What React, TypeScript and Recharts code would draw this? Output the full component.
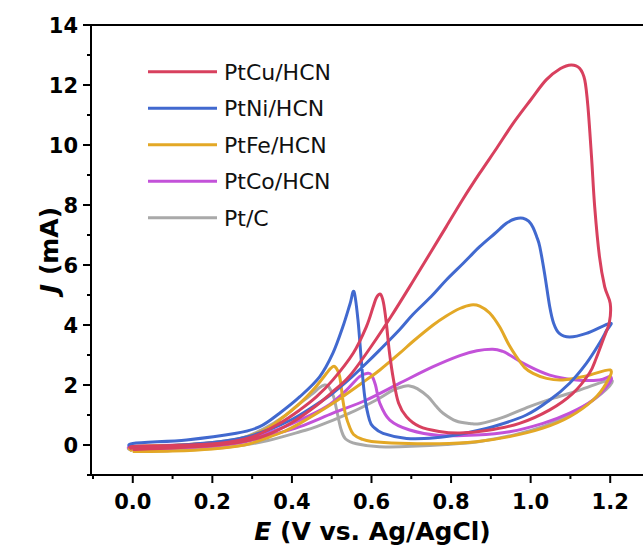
import React from 'react';
import { LineChart, Line, XAxis, YAxis, ReferenceLine, Legend } from 'recharts';

// ---- Data: [E (V vs. Ag/AgCl), J (mA)] in scan order (forward 0 -> 1.2 V, then reverse 1.2 -> 0 V)
const ptCuForward: [number, number][] = [
  [0, -0.15], [0.1, -0.1], [0.2, -0.02], [0.28, 0.12], [0.34, 0.35], [0.4, 0.75], [0.46, 1.3], [0.5, 1.75],
  [0.545, 2.3], [0.6, 3.3], [0.65, 4.3], [0.704, 5.45], [0.75, 6.45], [0.788, 7.28], [0.83, 8.2], [0.872, 9.06],
  [0.915, 9.9], [0.956, 10.72], [1.0, 11.5], [1.039, 12.17], [1.075, 12.55], [1.102, 12.67], [1.123, 12.56],
  [1.136, 12.17], [1.144, 11.28], [1.153, 9.61], [1.161, 7.94], [1.173, 6.28], [1.186, 5.28], [1.2, 4.72],
];
const ptCuReverse: [number, number][] = [
  [1.198, 4.1], [1.182, 3.5], [1.165, 2.9], [1.148, 2.4], [1.106, 1.72], [1.048, 1.17], [0.972, 0.72],
  [0.889, 0.48], [0.822, 0.4], [0.77, 0.45], [0.72, 0.62], [0.688, 0.94], [0.668, 1.4], [0.655, 2.2],
  [0.645, 3.1], [0.637, 4.1], [0.63, 4.75], [0.622, 5.03], [0.612, 4.9], [0.604, 4.6], [0.587, 3.94],
  [0.554, 3.06], [0.503, 2.17], [0.462, 1.61], [0.42, 1.17], [0.369, 0.72], [0.302, 0.28], [0.22, 0.06],
  [0.1, -0.02], [0, -0.05], [0, -0.15],
];

const ptNiForward: [number, number][] = [
  [0, -0.1], [0.1, -0.02], [0.2, 0.08], [0.28, 0.25], [0.34, 0.5], [0.4, 0.85], [0.45, 1.25], [0.5, 1.7],
  [0.545, 2.2], [0.585, 2.7], [0.621, 3.17], [0.671, 3.85], [0.704, 4.35], [0.75, 4.95], [0.788, 5.5],
  [0.83, 6.05], [0.872, 6.61], [0.91, 7.05], [0.939, 7.39], [0.962, 7.54], [0.981, 7.56], [0.995, 7.46],
  [1.006, 7.25], [1.015, 6.95], [1.023, 6.61], [1.035, 5.72], [1.048, 4.61], [1.058, 4.05], [1.072, 3.72],
  [1.098, 3.6], [1.14, 3.72], [1.2, 4.06],
];
const ptNiReverse: [number, number][] = [
  [1.19, 3.8], [1.173, 3.39], [1.14, 2.72], [1.098, 2.06], [1.048, 1.5], [0.989, 1.0], [0.905, 0.61],
  [0.822, 0.36], [0.76, 0.24], [0.688, 0.22], [0.629, 0.39], [0.605, 0.6], [0.595, 0.83], [0.583, 1.61],
  [0.575, 2.72], [0.566, 4.17], [0.556, 5.11], [0.546, 4.7], [0.528, 3.94], [0.503, 3.06], [0.47, 2.28],
  [0.42, 1.61], [0.369, 1.06], [0.319, 0.61], [0.26, 0.39], [0.135, 0.17], [0, 0.05], [0, -0.1],
];

const ptFeForward: [number, number][] = [
  [0, -0.22], [0.1, -0.2], [0.2, -0.13], [0.28, 0.0], [0.34, 0.25], [0.38, 0.45], [0.42, 0.72], [0.503, 1.39],
  [0.587, 2.17], [0.621, 2.5], [0.671, 3.06], [0.704, 3.45], [0.755, 4.0], [0.788, 4.3], [0.822, 4.55],
  [0.85, 4.67], [0.872, 4.63], [0.897, 4.4], [0.922, 3.94], [0.945, 3.35], [0.964, 2.95], [0.985, 2.58],
  [1.006, 2.39], [1.04, 2.22], [1.081, 2.17], [1.14, 2.3], [1.2, 2.5],
];
const ptFeReverse: [number, number][] = [
  [1.19, 2.06], [1.157, 1.5], [1.098, 0.94], [1.031, 0.56], [0.947, 0.28], [0.863, 0.11], [0.77, 0.04],
  [0.671, 0.06], [0.6, 0.12], [0.575, 0.2], [0.555, 0.35], [0.545, 0.6], [0.535, 1.0], [0.528, 1.5],
  [0.52, 2.28], [0.508, 2.61], [0.497, 2.55], [0.487, 2.39], [0.453, 1.83], [0.42, 1.39], [0.38, 0.95],
  [0.33, 0.5], [0.25, 0.15], [0.12, 0.0], [0, -0.05], [0, -0.22],
];

const ptCoForward: [number, number][] = [
  [0, -0.15], [0.1, -0.1], [0.2, -0.04], [0.28, 0.1], [0.34, 0.3], [0.42, 0.61], [0.503, 1.06], [0.587, 1.5],
  [0.671, 2.06], [0.755, 2.61], [0.822, 2.98], [0.865, 3.14], [0.905, 3.19], [0.93, 3.12], [0.947, 3.0],
  [0.989, 2.67], [1.048, 2.33], [1.115, 2.17], [1.173, 2.17], [1.2, 2.28],
];
const ptCoReverse: [number, number][] = [
  [1.198, 2.06], [1.157, 1.5], [1.098, 1.06], [1.031, 0.72], [0.947, 0.44], [0.863, 0.33], [0.771, 0.32],
  [0.696, 0.5], [0.646, 0.83], [0.621, 1.39], [0.61, 2.0], [0.6, 2.33], [0.591, 2.39], [0.57, 2.28],
  [0.537, 1.83], [0.487, 1.28], [0.42, 0.83], [0.35, 0.45], [0.27, 0.17], [0.15, 0.02], [0, -0.05], [0, -0.15],
];

const ptCForward: [number, number][] = [
  [0, -0.2], [0.1, -0.18], [0.2, -0.12], [0.28, 0.0], [0.34, 0.15], [0.42, 0.44], [0.462, 0.61], [0.545, 1.06],
  [0.612, 1.5], [0.654, 1.83], [0.68, 1.95], [0.696, 1.97], [0.715, 1.88], [0.742, 1.61], [0.762, 1.3],
  [0.78, 1.06], [0.813, 0.8], [0.847, 0.72], [0.872, 0.71], [0.93, 0.92], [0.997, 1.28], [1.06, 1.57],
  [1.123, 1.83], [1.2, 2.17],
];
const ptCReverse: [number, number][] = [
  [1.19, 1.85], [1.123, 1.2], [1.039, 0.65], [0.956, 0.33], [0.872, 0.12], [0.788, 0.02], [0.7, -0.04],
  [0.62, -0.06], [0.562, 0.04], [0.535, 0.2], [0.524, 0.5], [0.515, 1.0], [0.505, 1.6], [0.492, 1.95],
  [0.482, 2.0], [0.468, 1.9], [0.453, 1.72], [0.42, 1.39], [0.38, 0.95], [0.33, 0.55], [0.27, 0.22],
  [0.15, 0.02], [0, -0.08], [0, -0.2],
];

const seriesNames = ['PtCu/HCN', 'PtNi/HCN', 'PtFe/HCN', 'PtCo/HCN', 'Pt/C'];

const xMajorTicks = [0, 0.2, 0.4, 0.6, 0.8, 1.0, 1.2];
const xMinorTicks = [-0.1, 0.1, 0.3, 0.5, 0.7, 0.9, 1.1, 1.3];
const yMajorTicks = [0, 2, 4, 6, 8, 10, 12, 14];
const yMinorTicks = [-1, 1, 3, 5, 7, 9, 11, 13];

// ---- Build
const toPoints = (a: [number, number][], b: [number, number][]) =>
  [...a, ...b].map(([e, j]) => ({ e, j }));

const colors = ['#d8405e', '#4169cf', '#e3a826', '#c352d9', '#a9a9a9'];
const seriesData = [
  toPoints(ptCuForward, ptCuReverse),
  toPoints(ptNiForward, ptNiReverse),
  toPoints(ptFeForward, ptFeReverse),
  toPoints(ptCoForward, ptCoReverse),
  toPoints(ptCForward, ptCReverse),
];
const series = seriesNames.map((name, i) => ({ name, color: colors[i], data: seriesData[i] }));

const xTicks = [...xMajorTicks, ...xMinorTicks].sort((a, b) => a - b);
const yTicks = [...yMajorTicks, ...yMinorTicks].sort((a, b) => a - b);

const FONT = '"DejaVu Sans", "Liberation Sans", Arial, sans-serif';

// Catmull-Rom curve factory (handles closed CV loops)
function catmullRom(context: any) {
  let pts: number[][] = [];
  return {
    areaStart() {},
    areaEnd() {},
    lineStart() { pts = []; },
    point(x: number, y: number) { pts.push([+x, +y]); },
    lineEnd() {
      const n = pts.length;
      if (!n) return;
      context.moveTo(pts[0][0], pts[0][1]);
      for (let i = 0; i < n - 1; i++) {
        const p0 = pts[Math.max(i - 1, 0)];
        const p1 = pts[i];
        const p2 = pts[i + 1];
        const p3 = pts[Math.min(i + 2, n - 1)];
        const c1x = p1[0] + (p2[0] - p0[0]) / 6;
        const c1y = p1[1] + (p2[1] - p0[1]) / 6;
        const c2x = p2[0] - (p3[0] - p1[0]) / 6;
        const c2y = p2[1] - (p3[1] - p1[1]) / 6;
        context.bezierCurveTo(c1x, c1y, c2x, c2y, p2[0], p2[1]);
      }
    },
  };
}

const isIn = (arr: number[], v: number) => arr.some((t) => Math.abs(t - v) < 1e-6);

const XTick = (props: any) => {
  const { x, y, payload } = props;
  const v = payload.value;
  const major = isIn(xMajorTicks, v);
  const ay = y - 12;
  return (
    <g>
      <line x1={x} x2={x} y1={ay} y2={ay + (major ? 8 : 4)} stroke="#000" strokeWidth={2} />
      {major && (
        <text x={x} y={ay + 34} textAnchor="middle" fontFamily={FONT} fontWeight="bold" fontSize={21} fill="#000">
          {v.toFixed(1)}
        </text>
      )}
    </g>
  );
};

const YTick = (props: any) => {
  const { x, y, payload } = props;
  const v = payload.value;
  const major = isIn(yMajorTicks, v);
  const ax = x + 12;
  return (
    <g>
      <line x1={ax} x2={ax - (major ? 8 : 4)} y1={y} y2={y} stroke="#000" strokeWidth={2} />
      {major && (
        <text x={ax - 13} y={y} dy="0.36em" textAnchor="end" fontFamily={FONT} fontWeight="bold" fontSize={21} fill="#000">
          {v}
        </text>
      )}
    </g>
  );
};

const XTitle = (props: any) => {
  const vb = props.viewBox || { x: 91, y: 475, width: 559, height: 60 };
  return (
    <text x={vb.x + vb.width / 2 + 2} y={vb.y + 65} textAnchor="middle" fontFamily={FONT} fontWeight="bold" fontSize={25} fill="#000">
      <tspan fontStyle="italic">E</tspan> (V vs. Ag/AgCl)
    </text>
  );
};

const YTitle = (props: any) => {
  const vb = props.viewBox || { x: 31, y: 25, width: 60, height: 450 };
  const cx = vb.x + 18;
  const cy = vb.y + vb.height / 2;
  return (
    <text transform={`translate(${cx},${cy}) rotate(-90)`} x={0} y={0} dy="0.36em" textAnchor="middle" fontFamily={FONT} fontWeight="bold" fontSize={25} fill="#000">
      <tspan fontStyle="italic">J</tspan> (mA)
    </text>
  );
};

const LegendContent = () => (
  <svg width={220} height={190} style={{ display: 'block' }}>
    {series.map((s, i) => {
      const cy = 21.7 + i * 36.5;
      return (
        <g key={s.name}>
          <line x1={8} x2={77} y1={cy} y2={cy} stroke={s.color} strokeWidth={3} />
          <text x={84} y={cy} dy="0.36em" fontFamily={FONT} fontSize={22} fill="#111">{s.name}</text>
        </g>
      );
    })}
  </svg>
);

export default function App() {
  return (
    <div style={{ position: 'absolute', left: 0, top: 0, width: 643, height: 554, overflow: 'hidden', background: '#fff' }}>
      <LineChart width={651} height={554} margin={{ top: 25, right: 1, bottom: 19, left: 31 }}>
        <XAxis
          type="number"
          dataKey="e"
          domain={[-0.105, 1.3]}
          ticks={xTicks}
          interval={0}
          tickSize={8}
          tickMargin={4}
          tickLine={false}
          tick={<XTick />}
          axisLine={{ stroke: '#000', strokeWidth: 2 }}
          height={60}
          allowDataOverflow
          label={<XTitle />}
        />
        <YAxis
          type="number"
          dataKey="j"
          domain={[-1, 14]}
          ticks={yTicks}
          interval={0}
          tickSize={8}
          tickMargin={4}
          tickLine={false}
          tick={<YTick />}
          axisLine={{ stroke: '#000', strokeWidth: 2 }}
          width={60}
          allowDataOverflow
          label={<YTitle />}
        />
        <ReferenceLine y={14} stroke="#000" strokeWidth={2} />
        {[...series].reverse().map((s) => (
          <Line
            key={s.name}
            data={s.data}
            dataKey="j"
            name={s.name}
            stroke={s.color}
            strokeWidth={3}
            dot={false}
            activeDot={false}
            type={catmullRom as any}
            isAnimationActive={false}
          />
        ))}
        <Legend
          layout="vertical"
          align="center"
          verticalAlign="middle"
          content={<LegendContent />}
          wrapperStyle={{ left: 140, top: 50, width: 220, height: 190 }}
        />
      </LineChart>
    </div>
  );
}
